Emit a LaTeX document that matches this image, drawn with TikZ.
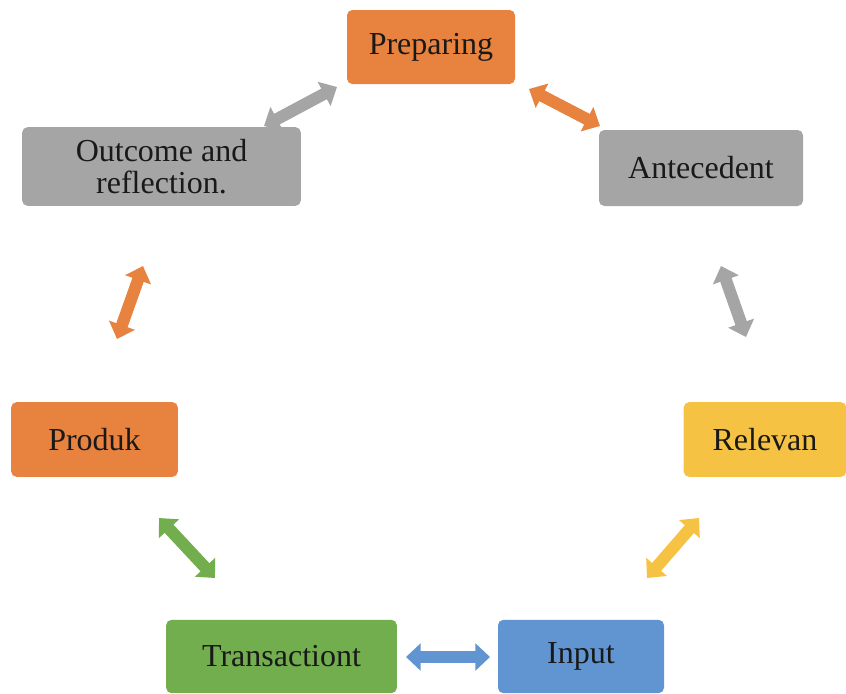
\documentclass[tikz,border=0pt]{standalone}
\usepackage{fontspec}
\setmainfont{Liberation Serif}
\usetikzlibrary{arrows.meta}
\definecolor{corange}{HTML}{E8823F}
\definecolor{cgray}{HTML}{A5A5A5}
\definecolor{cgold}{HTML}{F6C244}
\definecolor{cgreen}{HTML}{72AE4E}
\definecolor{cblue}{HTML}{6195D1}
\tikzset{
  box/.style={draw=none, rounded corners=4pt, inner sep=0pt, align=center,
    font=\fontsize{24}{21.5}\selectfont, text=black!90},
  dblarrow/.style={line width=9pt, {Triangle[width=20pt,length=11pt]}-{Triangle[width=20pt,length=11pt]}},
}
\begin{document}
\begin{tikzpicture}[x=0.75pt,y=-0.75pt]
\useasboundingbox (0,0) rectangle (846,693);
% boxes (corners in px)
\node[box, fill=corange, minimum width=126pt, minimum height=55.5pt] (prep) at (431,47) {Preparing};
\node[box, fill=cgray, minimum width=153pt, minimum height=57pt] (ante) at (701,168) {Antecedent};
\node[box, fill=cgray, minimum width=209pt, minimum height=59pt] (outc) at (161.5,166.5) {Outcome and\\[3pt]reflection.};
\node[box, fill=corange, minimum width=125pt, minimum height=56pt] (prod) at (94.5,439.5) {Produk};
\node[box, fill=cgold, minimum width=122pt, minimum height=56pt] (rele) at (765,439.5) {Relevan};
\node[box, fill=cgreen, minimum width=173pt, minimum height=55pt] (tran) at (281.5,656.5) {Transactiont};
\node[box, fill=cblue, minimum width=124.5pt, minimum height=55pt] (inpu) at (581,656.5) {Input};
% arrow end points
\coordinate (a1) at (264,126); \coordinate (b1) at (337,87);
\coordinate (a2) at (529,89);  \coordinate (b2) at (600,126);
\coordinate (a3) at (721,266); \coordinate (b3) at (746,337);
\coordinate (a4) at (699,518); \coordinate (b4) at (647,578);
\coordinate (a5) at (406,657); \coordinate (b5) at (490,657);
\coordinate (a6) at (159,518); \coordinate (b6) at (215,578);
\coordinate (a7) at (143,266); \coordinate (b7) at (117,339);
\draw[dblarrow, cgray] (a1) -- (b1);
\draw[dblarrow, corange] (a2) -- (b2);
\draw[dblarrow, cgray] (a3) -- (b3);
\draw[dblarrow, cgold] (a4) -- (b4);
\draw[dblarrow, cblue] (a5) -- (b5);
\draw[dblarrow, cgreen] (a6) -- (b6);
\draw[dblarrow, corange] (a7) -- (b7);
\end{tikzpicture}
\end{document}
